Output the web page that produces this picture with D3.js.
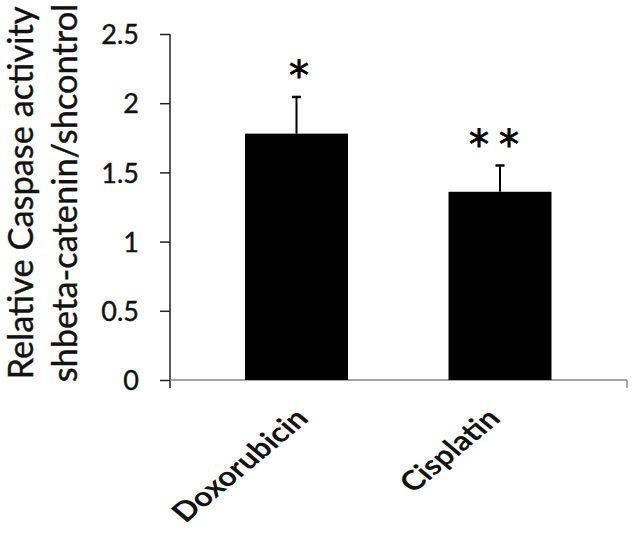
<!DOCTYPE html>
<html><head><meta charset="utf-8">
<script src="https://cdn.jsdelivr.net/npm/d3@7"></script>
<style>body{margin:0;background:#fff}</style>
</head><body>
<svg id="c" width="633" height="533"></svg>
<script>
const categories = ["Doxorubicin", "Cisplatin"];
const values = [1.78, 1.36];
const errors = [0.265, 0.19];
const stars = ["*", "* *"];
const yTicks = [0, 0.5, 1, 1.5, 2, 2.5];
const yTickLabels = ["0", "0.5", "1", "1.5", "2", "2.5"];
const yTitle = ["Relative Caspase activity", "shbeta-catenin/shcontrol"];

const svg = d3.select("#c");
const y = d3.scaleLinear().domain([0, 2.5]).range([380, 34]);
const x = d3.scaleBand().domain(categories).range([194.75, 601.75]).paddingInner(0.494).paddingOuter(0.247);
const axisLeft = 170, axisRight = 627;
const font = "Lato, 'Open Sans', sans-serif";
const SX = 1.2; // x-label horizontal stretch

// y axis
const ya = svg.append("g").attr("transform", `translate(${axisLeft},0)`)
  .call(d3.axisLeft(y).tickValues(yTicks).tickFormat((d,i)=>yTickLabels[i]).tickSize(10).tickPadding(21));
ya.select(".domain").remove();
ya.selectAll(".tick line").attr("stroke", "#222").attr("stroke-width", 1.5);
ya.selectAll(".tick text").attr("dy", "0.36em")
  .attr("font-family", font).attr("font-size", 27).attr("fill", "#111")
  .attr("stroke", "#111").attr("stroke-width", 0.4);
svg.append("line").attr("x1", axisLeft).attr("x2", axisLeft).attr("y1", y(2.5)).attr("y2", y(0)+8)
  .attr("stroke", "#222").attr("stroke-width", 1.5);

// x axis
svg.append("line").attr("x1", axisLeft).attr("x2", axisRight).attr("y1", y(0)).attr("y2", y(0))
  .attr("stroke", "#8a8a8a").attr("stroke-width", 1.5);
svg.append("line").attr("x1", axisRight).attr("x2", axisRight).attr("y1", y(0)).attr("y2", y(0)+8)
  .attr("stroke", "#8a8a8a").attr("stroke-width", 1.5);

// bars
svg.selectAll("rect.bar").data(categories).enter().append("rect").attr("class","bar")
  .attr("x", d=>x(d)).attr("width", x.bandwidth())
  .attr("y", (d,i)=>y(values[i])).attr("height", (d,i)=>y(0)-y(values[i]))
  .attr("fill", "#000");

// error bars
const eb = svg.selectAll("g.eb").data(categories).enter().append("g");
eb.append("line").attr("x1", d=>x(d)+x.bandwidth()/2).attr("x2", d=>x(d)+x.bandwidth()/2)
  .attr("y1", (d,i)=>y(values[i])).attr("y2", (d,i)=>y(values[i]+errors[i]))
  .attr("stroke", "#000").attr("stroke-width", 2);
eb.append("line").attr("x1", d=>x(d)+x.bandwidth()/2-4.5).attr("x2", d=>x(d)+x.bandwidth()/2+4.5)
  .attr("y1", (d,i)=>y(values[i]+errors[i])).attr("y2", (d,i)=>y(values[i]+errors[i]))
  .attr("stroke", "#000").attr("stroke-width", 2.5);

// stars
svg.selectAll("text.star").data(categories).enter().append("text")
  .attr("x", d=>x(d)+x.bandwidth()/2+(d==="Cisplatin"?-6:2.5))
  .attr("y", (d,i)=>y(values[i]+errors[i])-6.5)
  .attr("text-anchor", "middle").attr("font-family", "'DejaVu Sans', sans-serif")
  .attr("font-size", 40).attr("word-spacing", "-2.7px").attr("fill", "#000")
  .attr("stroke", "#000").attr("stroke-width", 0.8)
  .text((d,i)=>stars[i]);

// x labels
const xl = svg.selectAll("text.xl").data(categories).enter().append("text")
  .attr("text-anchor", "end").attr("font-family", font).attr("font-weight", "bold")
  .attr("font-size", 27).attr("fill", "#111")
  .text(d=>d);
xl.each(function(d){
  const L = this.getComputedTextLength();
  const ax = x(d) + x.bandwidth()/2 - 26.7 + 0.274*L;
  d3.select(this).attr("transform", `translate(${ax},420) scale(${SX},1) rotate(-45)`);
});

// y title
svg.selectAll("text.yt").data(yTitle).enter().append("text")
  .attr("transform", (d,i)=>`translate(${32.5+i*44},193) rotate(-90)`)
  .attr("text-anchor", "middle").attr("font-family", font)
  .attr("font-size", 34.4).attr("fill", "#111")
  .attr("stroke", "#111").attr("stroke-width", 0.4)
  .text(d=>d);
</script>
</body></html>
